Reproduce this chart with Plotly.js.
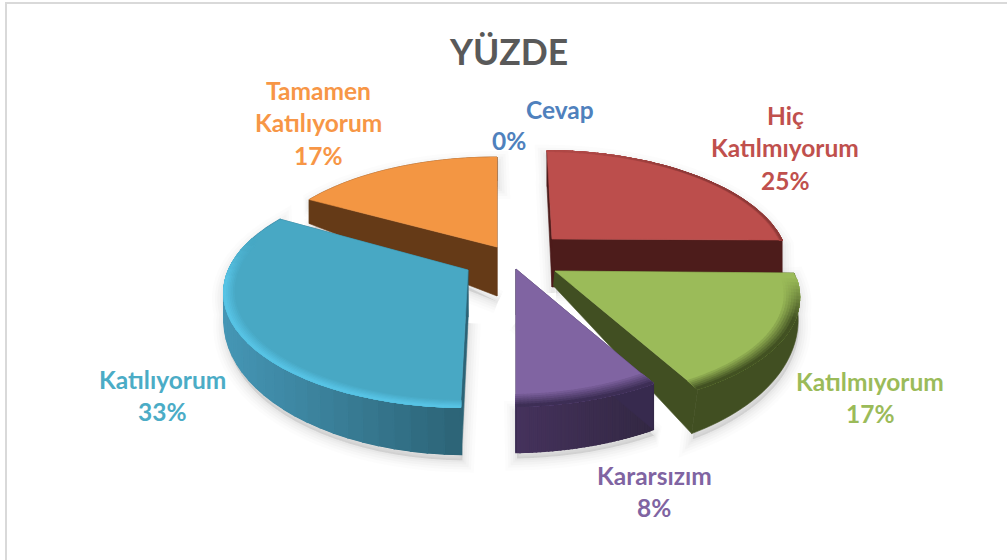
<!DOCTYPE html>
<html><head><meta charset="utf-8">
<script src="https://cdn.plot.ly/plotly-3.0.1.min.js"></script>
<style>html,body{margin:0;padding:0;background:#fff}#c{width:1007px;height:560px}</style>
</head><body><div id="c"></div>
<script>
// ---- data, clockwise from 12 o'clock ----
const categories = ['Cevap', 'Hiç Katılmıyorum', 'Katılmıyorum', 'Kararsızım', 'Katılıyorum', 'Tamamen Katılıyorum'];
const values = [0, 25, 17, 8, 33, 17];
const chartTitle = 'YÜZDE';
const labelLines = [['Cevap'], ['Hiç', 'Katılmıyorum'], ['Katılmıyorum'], ['Kararsızım'], ['Katılıyorum'], ['Tamamen', 'Katılıyorum']];

// ---- styling ----
const topColors  = ['#4F81BD', '#BC4E4C', '#9BBB59', '#8064A2', '#48A8C4', '#F39643'];
const textColors = ['#4F81BD', '#C0504D', '#9BBB59', '#8064A2', '#4BACC6', '#F79646'];
const wallLeft   = [null, '#4D1C1B', '#414F22', '#45325C', '#4596B5', '#653A17'];
const wallRight  = [null, '#4D1C1B', '#414F22', '#332843', '#2C6376', '#653A17'];
const cutWall    = [null, '#4D1C1B', '#414F22', '#372A4E', '#2C6376', '#653A17'];
const bevelColor = [null, '#6E2B2A', '#3E4C20', '#3A2C52', '#58C4E6', null];
const bevelWidth = [0, 0.012, 0.06, 0.07, 0.04, 0];
const bevelStrength = [0, 0.6, 0.95, 0.95, 0.95, 0];
const bevelFrom = [0, -1.1, 0.05, -0.05, -0.25, 0];

// ---- exploded perspective frame of each slice: apex, radius vectors ----
const persp = 0.2;
const apexX = [0, 552, 555, 516, 468, 497];
const apexY = [0, 239, 271, 269, 270, 247];
const radUx = [0, 230, 239, 235, 238, 235];
const radUy = [0, 1, 2, -4, 3, 0];
const radVx = [0, 6, 3, 0, -6, 0];
const radVy = [0, 106, 110, 110, 110, 108];
const apexDepth = [0, 48, 15, 46, 47, 49];
const rimBase   = [0, 36, 20, 46, 22, 24];
const rimSlope  = [0, 0, 28, 0, 25, 0];
const wallShift = [0, 0, -7, 0, 1, 0];
const drawOrder = [5, 1, 2, 4, 3];
const N = 36;

function mix(a, b, t) {
  const p = c => [1, 3, 5].map(i => parseInt(c.substr(i, 2), 16));
  const A = p(a), B = p(b);
  return 'rgb(' + A.map((x, i) => Math.round(x + (B[i] - x) * t)).join(',') + ')';
}
function project(i, u, v) {
  const s = 1 / (1 - persp * v);
  return [apexX[i] + (u * radUx[i] + v * radVx[i]) * s, apexY[i] + (u * radUy[i] + v * radVy[i]) * s];
}
const total = values.reduce((a, b) => a + b, 0);
let cum = 0;
const spans = values.map(val => { const a = cum / total * 2 * Math.PI; cum += val; return [a, cum / total * 2 * Math.PI]; });
function rimPoint(i, th, r) { return project(i, r * Math.sin(th), -r * Math.cos(th)); }
function depthAt(i, v) { return rimBase[i] + rimSlope[i] * Math.max(v, 0); }
function lowerRim(i, th) {
  const v = -Math.cos(th), p = rimPoint(i, th, 1);
  return [p[0] + wallShift[i] * Math.max(v, 0), p[1] + depthAt(i, v)];
}
function arcAngles(i) { const [a, b] = spans[i], out = []; for (let k = 0; k <= N; k++) out.push(a + (b - a) * k / N); return out; }
function poly(pts, fill, lineColor, lw) {
  return { type: 'scatter', mode: 'lines', x: pts.map(p => p[0]).concat(pts[0][0]), y: pts.map(p => p[1]).concat(pts[0][1]),
    fill: 'toself', fillcolor: fill, line: { color: lineColor || fill, width: lw === undefined ? 0.6 : lw, simplify: false },
    hoverinfo: 'skip', showlegend: false };
}

const traces = [];
// soft drop shadow
const shadowSteps = [[24, 0.010], [18, 0.014], [13, 0.018], [8, 0.02], [4, 0.024]];
drawOrder.forEach(i => {
  const th = arcAngles(i);
  const sil = [[apexX[i], apexY[i] + apexDepth[i]]].concat(th.map(t => lowerRim(i, t))).map(p => [p[0] + 1, p[1] + 6]);
  const top = th.map(t => rimPoint(i, t, 1));
  const pts = sil.concat(top.slice().reverse().map(p => [p[0], p[1] + 6]));
  shadowSteps.forEach(([w, a]) => traces.push(poly(pts, 'rgba(0,0,0,' + a + ')', 'rgba(0,0,0,' + a + ')', w)));
});
// slices, back to front
drawOrder.forEach(i => {
  const th = arcAngles(i);
  const apex = [apexX[i], apexY[i]], apexLow = [apexX[i] + wallShift[i] * 0.2, apexY[i] + apexDepth[i]];
  // whole rim wall as one seamless band, then its left-to-right shading
  const upper = th.map(t => rimPoint(i, t, 1)), lower = th.map(t => lowerRim(i, t));
  traces.push(poly(upper.concat(lower.slice().reverse()), cutWall[i]));
  if (wallLeft[i] !== wallRight[i]) {
    const xs = upper.map(p => p[0]), minU = Math.min(...xs), maxU = Math.max(...xs);
    for (let k = 0; k < N; k++) {
      const mid = (xs[k] + xs[k + 1]) / 2;
      const c = mix(wallLeft[i], wallRight[i], (mid - minU) / Math.max(maxU - minU, 1));
      traces.push(poly([upper[k], upper[k + 1], lower[k + 1], lower[k]], c, c, 1.6));
    }
  }
  // two cut faces
  [th[0], th[N]].forEach(t => traces.push(poly([apex, rimPoint(i, t, 1), lowerRim(i, t), apexLow], cutWall[i])));
  // top face
  traces.push(poly([apex].concat(upper), topColors[i]));
  // bevel along the rim
  if (bevelColor[i]) {
    const bands = 6;
    for (let j = bands - 1; j >= 0; j--) {
      const r0 = 1 - bevelWidth[i] * (j + 1) / bands, r1 = 1;
      for (let k = 0; k < N; k++) {
        const v = -Math.cos((th[k] + th[k + 1]) / 2);
        const fade = Math.max(0, Math.min(1, (v - bevelFrom[i]) / 0.35));
        const t = bevelStrength[i] * fade * (1 - j / bands);
        if (t <= 0.01) continue;
        const c = mix(topColors[i], bevelColor[i], t);
        traces.push(poly([rimPoint(i, th[k], r1), rimPoint(i, th[k + 1], r1), rimPoint(i, th[k + 1], r0), rimPoint(i, th[k], r0)], c, c, 1.2));
      }
    }
  }
});

// labels
const labelX = [560, 785, 870, 654, 162, 318];
const labelY = [109, 115, 381, 475, 379, 90];
const pctX = [509, 785, 870, 654, 162, 318];
const lineStep = 32.5;
const labelSize = 24.5;
const annotations = [];
function note(x, y, text, color, size) {
  annotations.push({ x, y, xref: 'x', yref: 'y', text: '<b>' + text + '</b>', showarrow: false, xanchor: 'center', yanchor: 'middle',
    font: { family: 'Lato, Carlito, sans-serif', size, color } });
}
categories.forEach((c, i) => {
  labelLines[i].forEach((ln, j) => note(labelX[i], labelY[i] + j * lineStep, ln, textColors[i], labelSize));
  const py = i === 0 ? 140 : labelY[i] + labelLines[i].length * lineStep;
  note(pctX[i], py, values[i] + '%', textColors[i], labelSize);
});
note(508, 51, chartTitle, '#595959', 35.5);

Plotly.newPlot('c', traces, {
  width: 1007, height: 560, margin: { l: 0, r: 0, t: 0, b: 0 },
  paper_bgcolor: '#fff', plot_bgcolor: '#fff',
  xaxis: { range: [0, 1007], visible: false, fixedrange: true },
  yaxis: { range: [560, 0], visible: false, fixedrange: true },
  showlegend: false, annotations,
  shapes: [
    { type: 'line', xref: 'x', yref: 'y', x0: 5, x1: 1007, y0: 3, y1: 3, line: { color: '#D9D9D9', width: 2 } },
    { type: 'line', xref: 'x', yref: 'y', x0: 6, x1: 6, y0: 3, y1: 560, line: { color: '#D9D9D9', width: 2 } }
  ]
}, { staticPlot: true, displayModeBar: false });
</script></body></html>
